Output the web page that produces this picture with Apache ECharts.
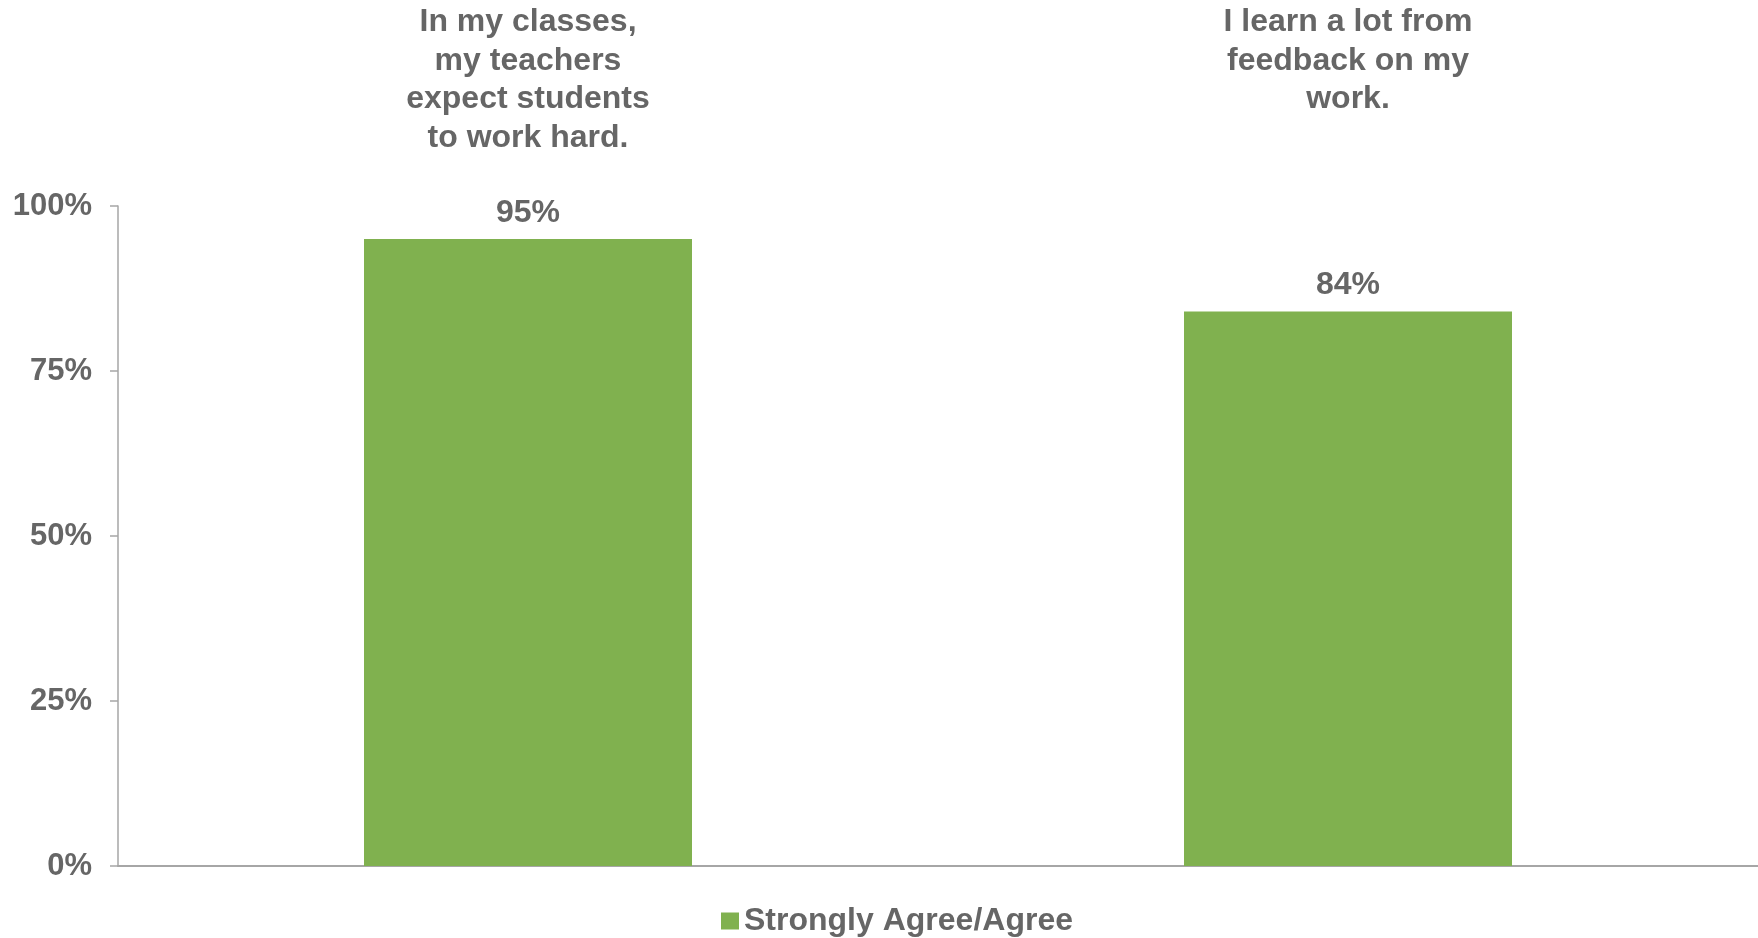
<!DOCTYPE html>
<html>
<head>
<meta charset="utf-8">
<script src="https://cdn.jsdelivr.net/npm/echarts@6/dist/echarts.min.js"></script>
<style>
html,body{margin:0;padding:0;background:#fff;}
#chart{width:1758px;height:938px;}
</style>
</head>
<body>
<div id="chart"></div>
<script>
const categories = [
  "In my classes,\nmy teachers\nexpect students\nto work hard.",
  "I learn a lot from\nfeedback on my\nwork."
];
const seriesName = "Strongly Agree/Agree";
const values = [95, 84];
const yTicks = [0, 25, 50, 75, 100];

const FONT = "'Liberation Sans', Arial, sans-serif";
const GRAY = "#666666";
const GREEN = "#80B14F";

const chart = echarts.init(document.getElementById('chart'), null, {renderer: 'canvas'});
chart.setOption({
  animation: false,
  backgroundColor: '#ffffff',
  grid: {left: 118, right: 0, top: 206, bottom: 72, containLabel: false},
  legend: {
    data: [seriesName],
    left: 716,
    top: 900,
    itemWidth: 18,
    itemHeight: 17,
    icon: 'rect',
    textStyle: {fontFamily: FONT, fontSize: 32, fontWeight: 'bold', color: GRAY, padding: [0, 0, 0, 0]}
  },
  xAxis: [
    {
      type: 'category',
      data: categories,
      position: 'bottom',
      axisLine: {show: true, lineStyle: {color: '#a6a6a6', width: 2}},
      axisTick: {show: false},
      axisLabel: {show: false}
    },
    {
      type: 'category',
      data: categories,
      position: 'top',
      axisLine: {show: false},
      axisTick: {show: false},
      axisLabel: {
        show: true,
        margin: 203,
        verticalAlign: 'top',
        align: 'center',
        fontFamily: FONT,
        fontSize: 32,
        fontWeight: 'bold',
        lineHeight: 38.5,
        color: GRAY
      }
    }
  ],
  yAxis: {
    type: 'value',
    min: yTicks[0],
    max: yTicks[yTicks.length - 1],
    interval: yTicks[1] - yTicks[0],
    splitLine: {show: false},
    axisLine: {show: true, lineStyle: {color: '#a6a6a6', width: 1.5}},
    axisTick: {show: true, length: 8, inside: false, lineStyle: {color: '#a6a6a6', width: 1.5}},
    axisLabel: {
      margin: 26,
      formatter: '{value}%',
      fontFamily: FONT,
      fontSize: 31,
      fontWeight: 'bold',
      color: GRAY,
      padding: [5, 0, 0, 0]
    }
  },
  series: [{
    name: seriesName,
    type: 'bar',
    xAxisIndex: 0,
    data: values,
    barWidth: '40%',
    itemStyle: {color: GREEN},
    label: {
      show: true,
      position: 'top',
      distance: 10,
      formatter: '{c}%',
      fontFamily: FONT,
      fontSize: 32,
      fontWeight: 'bold',
      color: GRAY
    }
  }]
});
</script>
</body>
</html>
